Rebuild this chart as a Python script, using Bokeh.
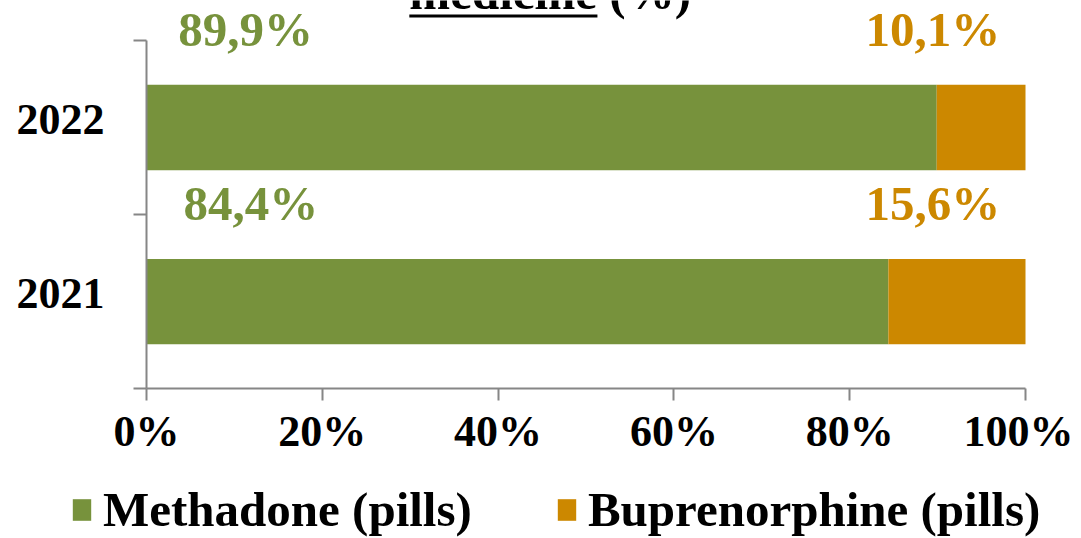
from bokeh.plotting import figure
from bokeh.models import (ColumnDataSource, FixedTicker, Range1d, LabelSet, Label,
                          BoxAnnotation)
from bokeh.embed import file_html
from bokeh.resources import INLINE

# ---- data ----
years = ["2021", "2022"]
methadone = [84.4, 89.9]
buprenorphine = [15.6, 10.1]
methadone_labels = ["84,4%", "89,9%"]
buprenorphine_labels = ["15,6%", "10,1%"]
series_names = ["Methadone (pills)", "Buprenorphine (pills)"]
x_ticks = [0, 20, 40, 60, 80, 100]
x_tick_labels = ["0%", "20%", "40%", "60%", "80%", "100%"]
title_text = "medicine (%)"

# ---- style / layout ----
GREEN = "#77923C"
ORANGE = "#CC8800"
AXIS = "#868686"
FONT = "Liberation Serif"
M_LABEL_X = [4.2, 3.6]       # left edge of green value labels (data units)
B_LABEL_X = [81.8, 81.8]     # left edge of orange value labels
LABEL_DY = 0.47              # baseline offset above category centre
YLAB_DY = 0.046              # small upward nudge of year labels

ypos = [i + 0.5 for i in range(len(years))]
src = ColumnDataSource(dict(
    y=ypos,
    m_=methadone,
    b_=buprenorphine,
    ml=methadone_labels,
    bl=buprenorphine_labels,
    my=[v + LABEL_DY for v in ypos],
    mx=M_LABEL_X,
    bx=B_LABEL_X,
))

p = figure(width=1073, height=538, output_backend="svg", toolbar_location=None,
           x_range=Range1d(-16.61, 105.46), y_range=Range1d(-0.862, 2.2299),
           min_border=0)
p.outline_line_color = None
p.xgrid.visible = False
p.ygrid.visible = False
p.background_fill_color = "white"

p.hbar_stack(["m_", "b_"], y="y", height=0.49, color=[GREEN, ORANGE],
             line_color=None, source=src, legend_label=series_names)

# x axis
xa = p.xaxis[0]
xa.fixed_location = 0
xa.bounds = (0, 100)
xa.ticker = FixedTicker(ticks=x_ticks)
xa.major_label_overrides = {t: l for t, l in zip(x_ticks, x_tick_labels)}
xa.axis_line_color = AXIS
xa.axis_line_width = 2
xa.major_tick_line_color = AXIS
xa.major_tick_line_width = 2
xa.major_tick_out = 12
xa.major_tick_in = 0
xa.minor_tick_line_color = None
xa.major_label_standoff = 6
xa.major_label_text_font = FONT
xa.major_label_text_font_style = "bold"
xa.major_label_text_font_size = "44px"
xa.major_label_text_color = "black"

# y axis
ya = p.yaxis[0]
ya.fixed_location = 0
ya.bounds = (0, len(years))
ylab_pos = [v + YLAB_DY for v in ypos]
ya.ticker = FixedTicker(ticks=ylab_pos, minor_ticks=list(range(len(years) + 1)))
ya.major_label_overrides = {y: l for y, l in zip(ylab_pos, years)}
ya.axis_line_color = AXIS
ya.axis_line_width = 2
ya.major_tick_line_color = None
ya.major_tick_out = 0
ya.major_tick_in = 0
ya.minor_tick_line_color = AXIS
ya.minor_tick_line_width = 2
ya.minor_tick_out = 13
ya.minor_tick_in = 0
ya.major_label_standoff = 29
ya.major_label_text_font = FONT
ya.major_label_text_font_style = "bold"
ya.major_label_text_font_size = "44px"
ya.major_label_text_color = "black"

# data labels
for xcol, tcol, col in (("mx", "ml", GREEN), ("bx", "bl", ORANGE)):
    p.add_layout(LabelSet(x=xcol, y="my", text=tcol, source=src,
                          text_font=FONT, text_font_style="bold",
                          text_font_size="49px", text_color=col,
                          text_align="left", text_baseline="alphabetic"))

# truncated title (cut at the top edge, as in the original)
p.add_layout(Label(x=29.9, y=2.276, text=title_text, text_font=FONT,
                   text_font_style="bold", text_font_size="49px",
                   text_color="black", text_baseline="alphabetic"))
p.add_layout(BoxAnnotation(left=29.9, right=51.3, bottom=2.132, top=2.149,
                           fill_color="black", fill_alpha=1, line_color=None))

# legend
lg = p.legend[0]
lg.orientation = "horizontal"
lg.location = (70, 0)
lg.border_line_color = None
lg.background_fill_alpha = 0
lg.padding = 0
lg.margin = 0
lg.spacing = 83
lg.glyph_width = 23
lg.glyph_height = 27
lg.label_standoff = 10
lg.label_text_font = FONT
lg.label_text_font_style = "bold"
lg.label_text_font_size = "49px"
lg.label_text_color = "black"

open("out.html", "w").write(file_html(p, INLINE))
